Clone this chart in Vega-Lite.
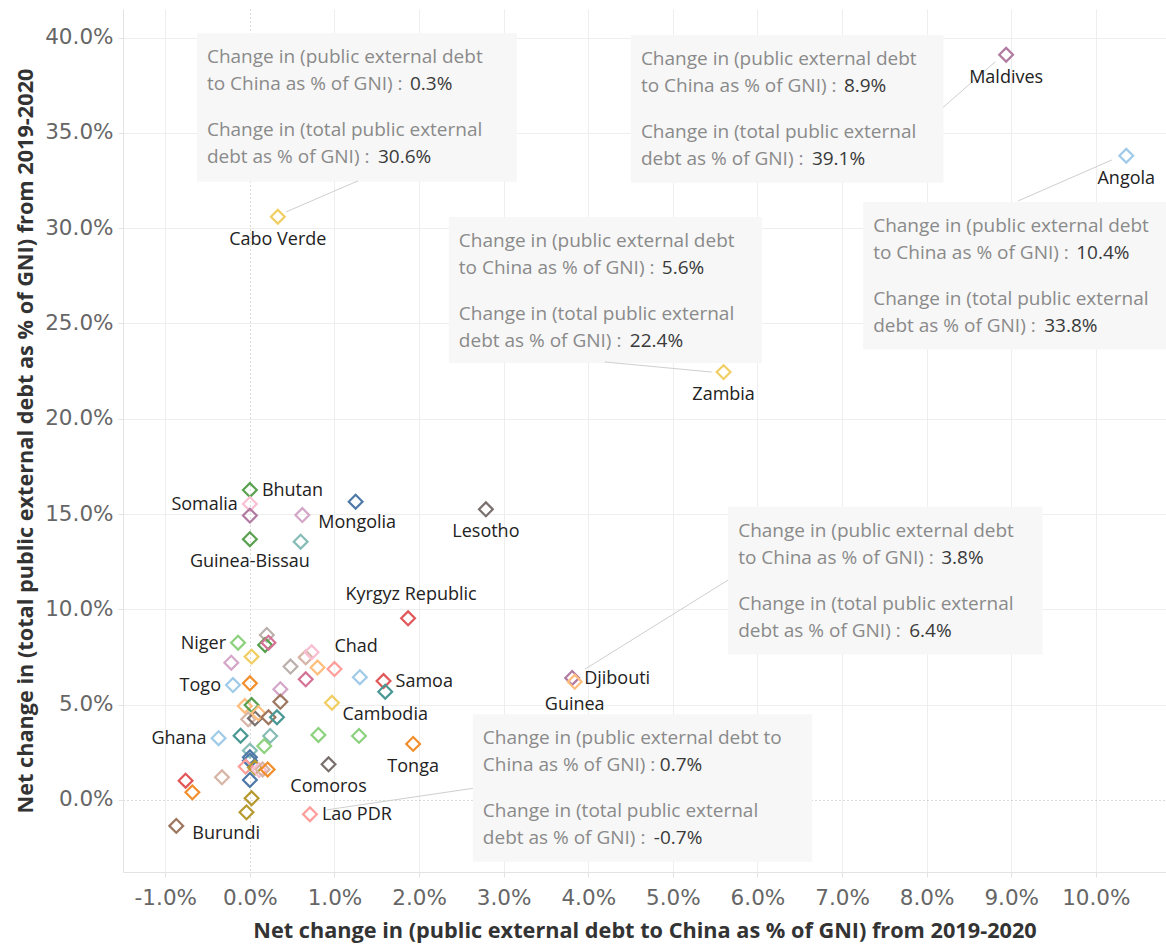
{
  "$schema": "https://vega.github.io/schema/vega-lite/v6.json",
  "autosize": {"type": "none"},
  "padding": {"left": 123, "top": 9, "right": 0, "bottom": 73},
  "width": 1043,
  "height": 863,
  "background": "white",
  "config": {
    "view": {"stroke": null},
    "font": "Open Sans",
    "axis": {
      "labelFont": "DejaVu Sans",
      "labelFontSize": 21.5,
      "labelColor": "#666666",
      "titleFont": "Open Sans",
      "titleFontSize": 21.7,
      "titleFontWeight": "bold",
      "titleColor": "#333333",
      "domainColor": "#e3e3e3",
      "tickColor": "#e3e3e3",
      "tickSize": 5,
      "gridColor": {"condition": {"test": "datum.value === 0", "value": "#b5b5b5"}, "value": "#eeeeee"},
      "gridDash": {"condition": {"test": "datum.value === 0", "value": [1, 3]}, "value": []}
    }
  },
  "datasets": {
    "points": [
      {"id": "p01", "country": "Cabo Verde", "x": 0.33, "y": 30.6},
      {"id": "p02", "country": "Maldives", "x": 8.94, "y": 39.1},
      {"id": "p03", "country": "Angola", "x": 10.36, "y": 33.8},
      {"id": "p04", "country": "Zambia", "x": 5.6, "y": 22.45},
      {"id": "p05", "country": "Bhutan", "x": 0.0, "y": 16.26},
      {"id": "p06", "country": "Somalia", "x": 0.0, "y": 15.53},
      {"id": "p07", "country": "", "x": 0.0, "y": 14.92},
      {"id": "p08", "country": "Mongolia", "x": 0.62, "y": 14.95},
      {"id": "p09", "country": "", "x": 1.25, "y": 15.65},
      {"id": "p10", "country": "Lesotho", "x": 2.79, "y": 15.25},
      {"id": "p11", "country": "Guinea-Bissau", "x": 0.0, "y": 13.68},
      {"id": "p12", "country": "", "x": 0.6, "y": 13.55},
      {"id": "p13", "country": "Kyrgyz Republic", "x": 1.87, "y": 9.53},
      {"id": "p14", "country": "Niger", "x": -0.14, "y": 8.25},
      {"id": "p15", "country": "", "x": 0.2, "y": 8.66},
      {"id": "p16", "country": "", "x": 0.18, "y": 8.13},
      {"id": "p17", "country": "", "x": 0.22, "y": 8.25},
      {"id": "p18", "country": "", "x": 0.02, "y": 7.52},
      {"id": "p19", "country": "", "x": -0.22, "y": 7.2},
      {"id": "p20", "country": "Togo", "x": -0.2, "y": 6.03},
      {"id": "p21", "country": "", "x": 0.0, "y": 6.12},
      {"id": "p22", "country": "", "x": 0.48, "y": 7.0},
      {"id": "p23", "country": "", "x": 0.66, "y": 7.48},
      {"id": "p24", "country": "", "x": 0.73, "y": 7.75},
      {"id": "p25", "country": "", "x": 0.66, "y": 6.33},
      {"id": "p26", "country": "", "x": 0.8, "y": 6.95},
      {"id": "p27", "country": "Chad", "x": 1.0, "y": 6.87},
      {"id": "p28", "country": "", "x": 1.3, "y": 6.44},
      {"id": "p29", "country": "Samoa", "x": 1.58, "y": 6.24},
      {"id": "p30", "country": "Cambodia", "x": 1.6, "y": 5.68},
      {"id": "p31", "country": "", "x": 0.36, "y": 5.81},
      {"id": "p32", "country": "", "x": 0.36, "y": 5.15},
      {"id": "p33", "country": "", "x": 0.97, "y": 5.1},
      {"id": "p34", "country": "", "x": -0.06, "y": 4.93},
      {"id": "p35", "country": "", "x": 0.02, "y": 4.98},
      {"id": "p36", "country": "", "x": -0.02, "y": 4.23},
      {"id": "p37", "country": "", "x": 0.06, "y": 4.28},
      {"id": "p38", "country": "", "x": 0.1, "y": 4.55},
      {"id": "p39", "country": "", "x": 0.22, "y": 4.34},
      {"id": "p40", "country": "", "x": 0.32, "y": 4.34},
      {"id": "p41", "country": "Ghana", "x": -0.37, "y": 3.24},
      {"id": "p42", "country": "", "x": -0.11, "y": 3.37},
      {"id": "p43", "country": "", "x": 0.24, "y": 3.36},
      {"id": "p44", "country": "", "x": 0.17, "y": 2.83},
      {"id": "p45", "country": "", "x": 0.81, "y": 3.41},
      {"id": "p46", "country": "", "x": 1.29, "y": 3.36},
      {"id": "p47", "country": "Tonga", "x": 1.93, "y": 2.94},
      {"id": "p48", "country": "", "x": 0.0, "y": 2.59},
      {"id": "p49", "country": "", "x": 0.0, "y": 2.24},
      {"id": "p50", "country": "", "x": 0.0, "y": 2.06},
      {"id": "p51", "country": "", "x": -0.05, "y": 1.75},
      {"id": "p52", "country": "", "x": 0.06, "y": 1.7},
      {"id": "p53", "country": "", "x": 0.11, "y": 1.57},
      {"id": "p54", "country": "", "x": 0.15, "y": 1.6},
      {"id": "p55", "country": "", "x": 0.21, "y": 1.6},
      {"id": "p56", "country": "Comoros", "x": 0.93, "y": 1.87},
      {"id": "p57", "country": "", "x": 0.0, "y": 1.05},
      {"id": "p58", "country": "", "x": -0.76, "y": 1.01},
      {"id": "p59", "country": "", "x": -0.68, "y": 0.4},
      {"id": "p60", "country": "", "x": -0.33, "y": 1.19},
      {"id": "p61", "country": "", "x": 0.02, "y": 0.09},
      {"id": "p62", "country": "", "x": -0.04, "y": -0.65},
      {"id": "p63", "country": "Burundi", "x": -0.87, "y": -1.36},
      {"id": "p64", "country": "Lao PDR", "x": 0.71, "y": -0.75},
      {"id": "p65", "country": "Djibouti", "x": 3.81, "y": 6.4},
      {"id": "p66", "country": "Guinea", "x": 3.84, "y": 6.2}
    ],
    "notes": [
      {"country": "Cabo Verde", "china": 0.3, "total": 30.6, "l1": "Change in (public external debt", "l2": "to China as % of GNI) :", "bx": -0.626, "bx2": 3.156, "by": 40.23, "by2": 32.43, "lx": 1.277, "ly": 32.48, "px": 0.426, "py": 30.85},
      {"country": "Maldives", "china": 8.9, "total": 39.1, "l1": "Change in (public external debt", "l2": "to China as % of GNI) :", "bx": 4.504, "bx2": 8.2, "by": 40.14, "by2": 32.39, "lx": 8.195, "ly": 36.34, "px": 8.814, "py": 38.74},
      {"country": "Angola", "china": 10.4, "total": 33.8, "l1": "Change in (public external debt", "l2": "to China as % of GNI) :", "bx": 7.25, "bx2": 11.0, "by": 31.38, "by2": 23.64, "lx": 9.082, "ly": 31.43, "px": 10.19, "py": 33.58},
      {"country": "Zambia", "china": 5.6, "total": 22.4, "l1": "Change in (public external debt", "l2": "to China as % of GNI) :", "bx": 2.352, "bx2": 6.052, "by": 30.59, "by2": 22.93, "lx": 4.196, "ly": 22.98, "px": 5.461, "py": 22.45},
      {"country": "Djibouti", "china": 3.8, "total": 6.4, "l1": "Change in (public external debt", "l2": "to China as % of GNI) :", "bx": 5.654, "bx2": 9.37, "by": 15.39, "by2": 7.63, "lx": 5.654, "ly": 11.54, "px": 3.96, "py": 6.86},
      {"country": "Lao PDR", "china": 0.7, "total": -0.7, "l1": "Change in (public external debt to", "l2": "China as % of GNI) :", "bx": 2.636, "bx2": 6.647, "by": 4.5, "by2": -3.24, "lx": 2.636, "ly": 0.61, "px": 0.907, "py": -0.52}
    ]
  },
  "layer": [
    {
      "data": {"name": "points"},
      "mark": {"type": "point", "shape": "diamond", "filled": false, "size": 190, "strokeWidth": 2.2, "opacity": 1},
      "encoding": {
        "x": {
          "field": "x", "type": "quantitative",
          "title": "Net change in (public external debt to China as % of GNI) from 2019-2020",
          "scale": {"domain": [-1.5, 10.83], "nice": false, "zero": false},
          "axis": {"values": [-1, 0, 1, 2, 3, 4, 5, 6, 7, 8, 9, 10], "labelExpr": "datum.value + '.0%'", "labelPadding": 10, "titlePadding": 12}
        },
        "y": {
          "field": "y", "type": "quantitative",
          "title": "Net change in (total public external debt as % of GNI) from 2019-2020",
          "scale": {"domain": [-3.78, 41.5], "nice": false, "zero": false},
          "axis": {"values": [0, 5, 10, 15, 20, 25, 30, 35, 40], "labelExpr": "datum.value + '.0%'", "labelPadding": 5, "titlePadding": 7}
        },
        "color": {
          "field": "id", "type": "nominal", "legend": null,
          "scale": {
            "domain": ["p01","p02","p03","p04","p05","p06","p07","p08","p09","p10","p11","p12","p13","p14","p15","p16","p17","p18","p19","p20","p21","p22","p23","p24","p25","p26","p27","p28","p29","p30","p31","p32","p33","p34","p35","p36","p37","p38","p39","p40","p41","p42","p43","p44","p45","p46","p47","p48","p49","p50","p51","p52","p53","p54","p55","p56","p57","p58","p59","p60","p61","p62","p63","p64","p65","p66"],
            "range": ["#f1ce63","#b07aa1","#a0cbe8","#f1ce63","#59a14f","#fabfd2","#b07aa1","#d4a6c8","#4e79a7","#79706e","#59a14f","#86bcb6","#e15759","#8cd17d","#bab0ac","#59a14f","#d37295","#f1ce63","#d4a6c8","#a0cbe8","#f28e2b","#bab0ac","#d7b5a6","#fabfd2","#d37295","#ffbe7d","#ff9d9a","#a0cbe8","#e15759","#499894","#d4a6c8","#9d7660","#f1ce63","#ffbe7d","#59a14f","#d7b5a6","#79706e","#ffbe7d","#9d7660","#499894","#a0cbe8","#499894","#86bcb6","#8cd17d","#8cd17d","#8cd17d","#f28e2b","#86bcb6","#4e79a7","#4e79a7","#ff9d9a","#b6992d","#fabfd2","#d7b5a6","#f28e2b","#79706e","#4e79a7","#e15759","#f28e2b","#d7b5a6","#b6992d","#b6992d","#9d7660","#ff9d9a","#b07aa1","#ffbe7d"]
          }
        }
      }
    },
    {
      "data": {"name": "notes"},
      "mark": {"type": "rect", "fill": "#f7f7f7", "clip": true},
      "encoding": {
        "x": {"field": "bx", "type": "quantitative", "title": "Net change in (public external debt to China as % of GNI) from 2019-2020"},
        "x2": {"field": "bx2"},
        "y": {"field": "by", "type": "quantitative", "title": "Net change in (total public external debt as % of GNI) from 2019-2020"},
        "y2": {"field": "by2"}
      }
    },
    {
      "data": {"name": "notes"},
      "mark": {"type": "rule", "color": "#cfcfcf", "strokeWidth": 1},
      "encoding": {
        "x": {"field": "lx", "type": "quantitative", "title": "Net change in (public external debt to China as % of GNI) from 2019-2020"},
        "x2": {"field": "px"},
        "y": {"field": "ly", "type": "quantitative", "title": "Net change in (total public external debt as % of GNI) from 2019-2020"},
        "y2": {"field": "py"}
      }
    },
    {
      "data": {"name": "points"},
      "transform": [{"filter": {"field": "country", "oneOf": ["Cabo Verde", "Maldives", "Angola", "Zambia", "Lesotho", "Guinea-Bissau", "Tonga", "Comoros", "Guinea", "Cambodia"]}}],
      "mark": {"type": "text", "align": "center", "baseline": "middle", "dy": 23, "fontSize": 18, "color": "#222222"},
      "encoding": {
        "x": {"field": "x", "type": "quantitative", "title": "Net change in (public external debt to China as % of GNI) from 2019-2020"},
        "y": {"field": "y", "type": "quantitative", "title": "Net change in (total public external debt as % of GNI) from 2019-2020"},
        "text": {"field": "country"}
      }
    },
    {
      "data": {"name": "points"},
      "transform": [{"filter": {"field": "country", "oneOf": ["Kyrgyz Republic"]}}],
      "mark": {"type": "text", "align": "center", "baseline": "middle", "dy": -23, "dx": 3, "fontSize": 18, "color": "#222222"},
      "encoding": {
        "x": {"field": "x", "type": "quantitative", "title": "Net change in (public external debt to China as % of GNI) from 2019-2020"},
        "y": {"field": "y", "type": "quantitative", "title": "Net change in (total public external debt as % of GNI) from 2019-2020"},
        "text": {"field": "country"}
      }
    },
    {
      "data": {"name": "points"},
      "transform": [{"filter": {"field": "country", "oneOf": ["Bhutan", "Samoa", "Lao PDR", "Djibouti"]}}],
      "mark": {"type": "text", "align": "left", "baseline": "middle", "dx": 12, "dy": 1, "fontSize": 18, "color": "#222222"},
      "encoding": {
        "x": {"field": "x", "type": "quantitative", "title": "Net change in (public external debt to China as % of GNI) from 2019-2020"},
        "y": {"field": "y", "type": "quantitative", "title": "Net change in (total public external debt as % of GNI) from 2019-2020"},
        "text": {"field": "country"}
      }
    },
    {
      "data": {"name": "points"},
      "transform": [{"filter": {"field": "country", "oneOf": ["Somalia", "Niger", "Togo", "Ghana"]}}],
      "mark": {"type": "text", "align": "right", "baseline": "middle", "dx": -12, "dy": 1, "fontSize": 18, "color": "#222222"},
      "encoding": {
        "x": {"field": "x", "type": "quantitative", "title": "Net change in (public external debt to China as % of GNI) from 2019-2020"},
        "y": {"field": "y", "type": "quantitative", "title": "Net change in (total public external debt as % of GNI) from 2019-2020"},
        "text": {"field": "country"}
      }
    },
    {
      "data": {"name": "points"},
      "transform": [{"filter": {"field": "country", "oneOf": ["Mongolia", "Burundi"]}}],
      "mark": {"type": "text", "align": "left", "baseline": "middle", "dx": 16, "dy": 8, "fontSize": 18, "color": "#222222"},
      "encoding": {
        "x": {"field": "x", "type": "quantitative", "title": "Net change in (public external debt to China as % of GNI) from 2019-2020"},
        "y": {"field": "y", "type": "quantitative", "title": "Net change in (total public external debt as % of GNI) from 2019-2020"},
        "text": {"field": "country"}
      }
    },
    {
      "data": {"name": "points"},
      "transform": [{"filter": {"field": "country", "oneOf": ["Chad"]}}],
      "mark": {"type": "text", "align": "left", "baseline": "middle", "dx": 0, "dy": -22, "fontSize": 18, "color": "#222222"},
      "encoding": {
        "x": {"field": "x", "type": "quantitative", "title": "Net change in (public external debt to China as % of GNI) from 2019-2020"},
        "y": {"field": "y", "type": "quantitative", "title": "Net change in (total public external debt as % of GNI) from 2019-2020"},
        "text": {"field": "country"}
      }
    },
    {
      "data": {"name": "notes"},
      "mark": {"type": "text", "align": "left", "baseline": "middle", "dx": 10, "dy": 24, "fontSize": 19, "color": "#8a8a8a"},
      "encoding": {
        "x": {"field": "bx", "type": "quantitative", "title": "Net change in (public external debt to China as % of GNI) from 2019-2020"},
        "y": {"field": "by", "type": "quantitative", "title": "Net change in (total public external debt as % of GNI) from 2019-2020"},
        "text": {"field": "l1"}
      }
    },
    {
      "data": {"name": "notes"},
      "mark": {"type": "text", "align": "left", "baseline": "middle", "dx": 10, "dy": 51, "fontSize": 19, "color": "#8a8a8a"},
      "encoding": {
        "x": {"field": "bx", "type": "quantitative", "title": "Net change in (public external debt to China as % of GNI) from 2019-2020"},
        "y": {"field": "by", "type": "quantitative", "title": "Net change in (total public external debt as % of GNI) from 2019-2020"},
        "text": {"field": "l2"}
      }
    },
    {
      "data": {"name": "notes"},
      "mark": {"type": "text", "align": "left", "baseline": "middle", "dx": 10, "dy": 97, "fontSize": 19, "color": "#8a8a8a", "text": "Change in (total public external"},
      "encoding": {
        "x": {"field": "bx", "type": "quantitative", "title": "Net change in (public external debt to China as % of GNI) from 2019-2020"},
        "y": {"field": "by", "type": "quantitative", "title": "Net change in (total public external debt as % of GNI) from 2019-2020"}
      }
    },
    {
      "data": {"name": "notes"},
      "mark": {"type": "text", "align": "left", "baseline": "middle", "dx": 10, "dy": 124, "fontSize": 19, "color": "#8a8a8a", "text": "debt as % of GNI) :"},
      "encoding": {
        "x": {"field": "bx", "type": "quantitative", "title": "Net change in (public external debt to China as % of GNI) from 2019-2020"},
        "y": {"field": "by", "type": "quantitative", "title": "Net change in (total public external debt as % of GNI) from 2019-2020"}
      }
    },
    {
      "data": {"name": "notes"},
      "transform": [
        {"filter": "datum.country !== 'Lao PDR'"},
        {"calculate": "replace(format(datum.china, '.1f'), '\u2212', '-') + '%'", "as": "ctext"}
      ],
      "mark": {"type": "text", "align": "left", "baseline": "middle", "dx": 213, "dy": 51, "fontSize": 19, "color": "#3a3a3a"},
      "encoding": {
        "x": {"field": "bx", "type": "quantitative", "title": "Net change in (public external debt to China as % of GNI) from 2019-2020"},
        "y": {"field": "by", "type": "quantitative", "title": "Net change in (total public external debt as % of GNI) from 2019-2020"},
        "text": {"field": "ctext"}
      }
    },
    {
      "data": {"name": "notes"},
      "transform": [
        {"filter": "datum.country === 'Lao PDR'"},
        {"calculate": "replace(format(datum.china, '.1f'), '\u2212', '-') + '%'", "as": "ctext"}
      ],
      "mark": {"type": "text", "align": "left", "baseline": "middle", "dx": 187, "dy": 51, "fontSize": 19, "color": "#3a3a3a"},
      "encoding": {
        "x": {"field": "bx", "type": "quantitative", "title": "Net change in (public external debt to China as % of GNI) from 2019-2020"},
        "y": {"field": "by", "type": "quantitative", "title": "Net change in (total public external debt as % of GNI) from 2019-2020"},
        "text": {"field": "ctext"}
      }
    },
    {
      "data": {"name": "notes"},
      "transform": [
        {"calculate": "replace(format(datum.total, '.1f'), '\u2212', '-') + '%'", "as": "ttext"}
      ],
      "mark": {"type": "text", "align": "left", "baseline": "middle", "dx": 181, "dy": 124, "fontSize": 19, "color": "#3a3a3a"},
      "encoding": {
        "x": {"field": "bx", "type": "quantitative", "title": "Net change in (public external debt to China as % of GNI) from 2019-2020"},
        "y": {"field": "by", "type": "quantitative", "title": "Net change in (total public external debt as % of GNI) from 2019-2020"},
        "text": {"field": "ttext"}
      }
    }
  ]
}
